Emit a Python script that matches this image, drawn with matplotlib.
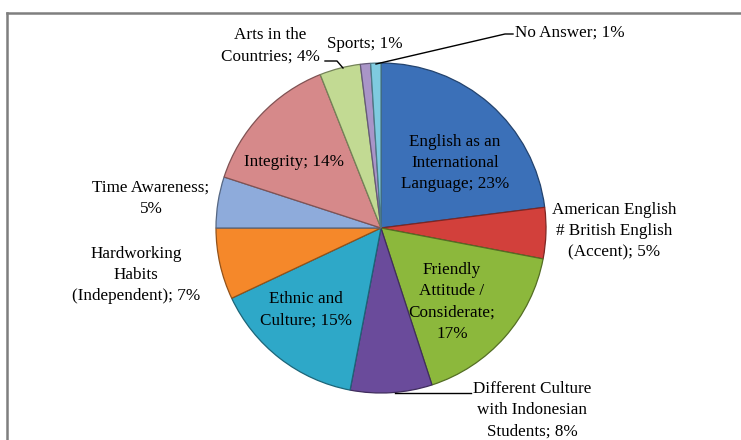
import matplotlib.pyplot as plt
import matplotlib.colors as mcolors

# Pie chart data (percent)
labels = ["English as an\nInternational\nLanguage; 23%",
          "American English\n# British English\n(Accent); 5%",
          "Friendly\nAttitude /\nConsiderate;\n17%",
          "Different Culture\nwith Indonesian\nStudents; 8%",
          "Ethnic and\nCulture; 15%",
          "Hardworking\nHabits\n(Independent); 7%",
          "Time Awareness;\n5%",
          "Integrity; 14%",
          "Arts in the\nCountries; 4%",
          "Sports; 1%",
          "No Answer; 1%"]
values = [23, 5, 17, 8, 15, 7, 5, 14, 4, 1, 1]
colors = ["#3b70b8", "#d2403b", "#8cb83c", "#6a4b9b", "#2ea8c8", "#f5882a",
          "#8eabdb", "#d6898a", "#c2da93", "#a995c8", "#7fcbe0"]

# label anchor positions in pixel coords (x, y from top)
label_pos = [(455, 163), (614, 231), (452, 302), (532, 410), (306, 310),
             (136, 275), (151, 198), (294, 162), (270, 46), (365, 44), (515, 33)]
label_ha = ["center"] * 10 + ["left"]

W, H = 741, 440
fig = plt.figure(figsize=(W / 100, H / 100), dpi=100)
ax = fig.add_axes([0, 0, 1, 1])

cx, cy, r = 381, H - 228, 165

def darker(c, f=0.6):
    rgb = mcolors.to_rgb(c)
    return tuple(v * f for v in rgb)

wedges, _ = ax.pie(values, colors=colors, startangle=90, counterclock=False,
                   center=(cx, cy), radius=r, frame=True,
                   wedgeprops=dict(linewidth=0.9))
for w, c in zip(wedges, colors):
    w.set_edgecolor(darker(c))
ax.set_xlim(0, W)
ax.set_ylim(0, H)
ax.set_aspect("equal")
ax.axis("off")

for txt, (x, y), ha in zip(labels, label_pos, label_ha):
    ax.text(x, H - y, txt, ha=ha, va="center", fontsize=12.3,
            family="Liberation Serif", linespacing=1.45, color="black")

# leader lines
ax.plot([325, 337, 343], [H - 61, H - 61, H - 68], color="black", lw=1)
ax.plot([376, 505, 513], [H - 64, H - 34, H - 34], color="black", lw=1)
ax.plot([395, 471], [H - 393, H - 393], color="black", lw=1)

# chart border (top and left visible)
ax.plot([7, W], [H - 13, H - 13], color="#7f7f7f", lw=1.8, clip_on=False)
ax.plot([7, 7], [H - 13, 0], color="#7f7f7f", lw=1.8, clip_on=False)

fig.savefig("out.png", dpi=100)
